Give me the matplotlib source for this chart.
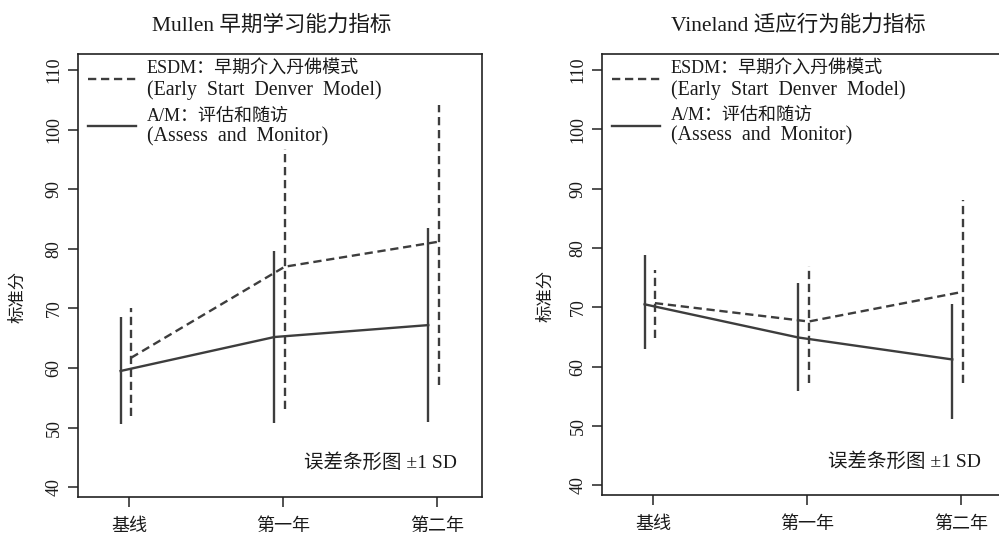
import numpy as np
import matplotlib
matplotlib.use('Agg')
import matplotlib.pyplot as plt
from matplotlib.lines import Line2D

plt.rcParams['font.family'] = ['Liberation Serif', 'Noto Sans CJK SC']

# ---------------- data ----------------
categories = ['基线', '第一年', '第二年']
titles = ['Mullen 早期学习能力指标', 'Vineland 适应行为能力指标']
ylabel = '标准分'
yticks = [40, 50, 60, 70, 80, 90, 100, 110]
legend_esdm = ['ESDM：早期介入丹佛模式', '(Early  Start  Denver  Model)']
legend_am = ['A/M：评估和随访', '(Assess  and  Monitor)']
note = '误差条形图 ±1 SD'

mullen_esdm_mean = [61.7, 77.0, 81.2]
mullen_esdm_lo = [52.0, 53.1, 57.1]
mullen_esdm_hi = [70.1, 96.8, 104.2]
mullen_am_mean = [59.5, 65.2, 67.2]
mullen_am_lo = [50.6, 50.8, 50.9]
mullen_am_hi = [68.6, 79.7, 83.5]

vineland_esdm_mean = [70.7, 67.6, 72.6]
vineland_esdm_lo = [64.8, 57.2, 57.2]
vineland_esdm_hi = [76.3, 76.9, 88.1]
vineland_am_mean = [70.5, 64.9, 61.2]
vineland_am_lo = [63.0, 55.8, 51.2]
vineland_am_hi = [78.8, 74.1, 70.5]

panels = [
    (mullen_esdm_mean, mullen_esdm_lo, mullen_esdm_hi,
     mullen_am_mean, mullen_am_lo, mullen_am_hi),
    (vineland_esdm_mean, vineland_esdm_lo, vineland_esdm_hi,
     vineland_am_mean, vineland_am_lo, vineland_am_hi),
]

# ---------------- style ----------------
LINE_C = '#3d3d3d'
AX_C = '#222222'
TXT_C = '#1a1a1a'
LW = 1.7
DASH = (0, (3.5, 2.0))
OFF_ESDM = 0.012
OFF_AM = -0.055

fig = plt.figure(figsize=(9.99, 5.35), dpi=100)
axes_rects = [
    [78 / 999, 1 - 497 / 535, 403.5 / 999, 443 / 535],
    [602 / 999, 1 - 495 / 535, 403.5 / 999, 441 / 535],
]
title_x = [272 / 999, 798 / 999]
ylabel_x = [-0.127, -0.117]

x = np.arange(1, len(categories) + 1)

for i, (rect, data) in enumerate(zip(axes_rects, panels)):
    e_mean, e_lo, e_hi, a_mean, a_lo, a_hi = data
    ax = fig.add_axes(rect)

    # ESDM dashed
    ax.plot(x + OFF_ESDM, e_mean, color=LINE_C, lw=LW, linestyle=DASH)
    ax.vlines(x + OFF_ESDM, e_lo, e_hi, colors=LINE_C, linewidth=LW,
              linestyles=[DASH])
    # A/M solid
    ax.plot(x + OFF_AM, a_mean, color=LINE_C, lw=LW, linestyle='-')
    ax.vlines(x + OFF_AM, a_lo, a_hi, colors=LINE_C, linewidth=LW)

    ax.set_xlim(0.668, 3.291)
    ax.set_ylim(38.35, 112.7)
    ax.set_xticks(x)
    ax.set_xticklabels(categories, fontsize=13, color=TXT_C)
    ax.set_yticks(yticks)
    ax.set_yticklabels([str(v) for v in yticks], fontsize=13, rotation=90,
                       va='center', color=TXT_C)
    ax.tick_params(axis='both', length=7, width=1.1, color=AX_C,
                   direction='out')
    ax.tick_params(axis='x', pad=8)
    ax.tick_params(axis='y', pad=4)
    for s in ax.spines.values():
        s.set_linewidth(1.2)
        s.set_color(AX_C)

    ax.set_ylabel(ylabel, fontsize=12.5, color=TXT_C)
    ax.yaxis.set_label_coords(ylabel_x[i], 0.451)

    # legend (manual layout)
    ax.add_line(Line2D([0.025, 0.144], [0.944, 0.944], transform=ax.transAxes,
                       color=LINE_C, lw=LW, linestyle=DASH))
    ax.add_line(Line2D([0.025, 0.144], [0.837, 0.837], transform=ax.transAxes,
                       color=LINE_C, lw=LW, linestyle='-'))
    tx = 0.171
    ax.text(tx, 0.966, legend_esdm[0], transform=ax.transAxes, fontsize=13,
            va='center', ha='left', color=TXT_C)
    ax.text(tx, 0.918, legend_esdm[1], transform=ax.transAxes, fontsize=14.3,
            va='center', ha='left', color=TXT_C)
    ax.text(tx, 0.860, legend_am[0], transform=ax.transAxes, fontsize=13,
            va='center', ha='left', color=TXT_C)
    ax.text(tx, 0.814, legend_am[1], transform=ax.transAxes, fontsize=14.3,
            va='center', ha='left', color=TXT_C)

    ax.text(0.94, 0.077, note, transform=ax.transAxes, fontsize=14,
            ha='right', va='center', color=TXT_C)

    fig.text(title_x[i], 1 - 25 / 535, titles[i], fontsize=15.5,
             ha='center', va='center', color=TXT_C)

fig.savefig('out.png', dpi=100)
